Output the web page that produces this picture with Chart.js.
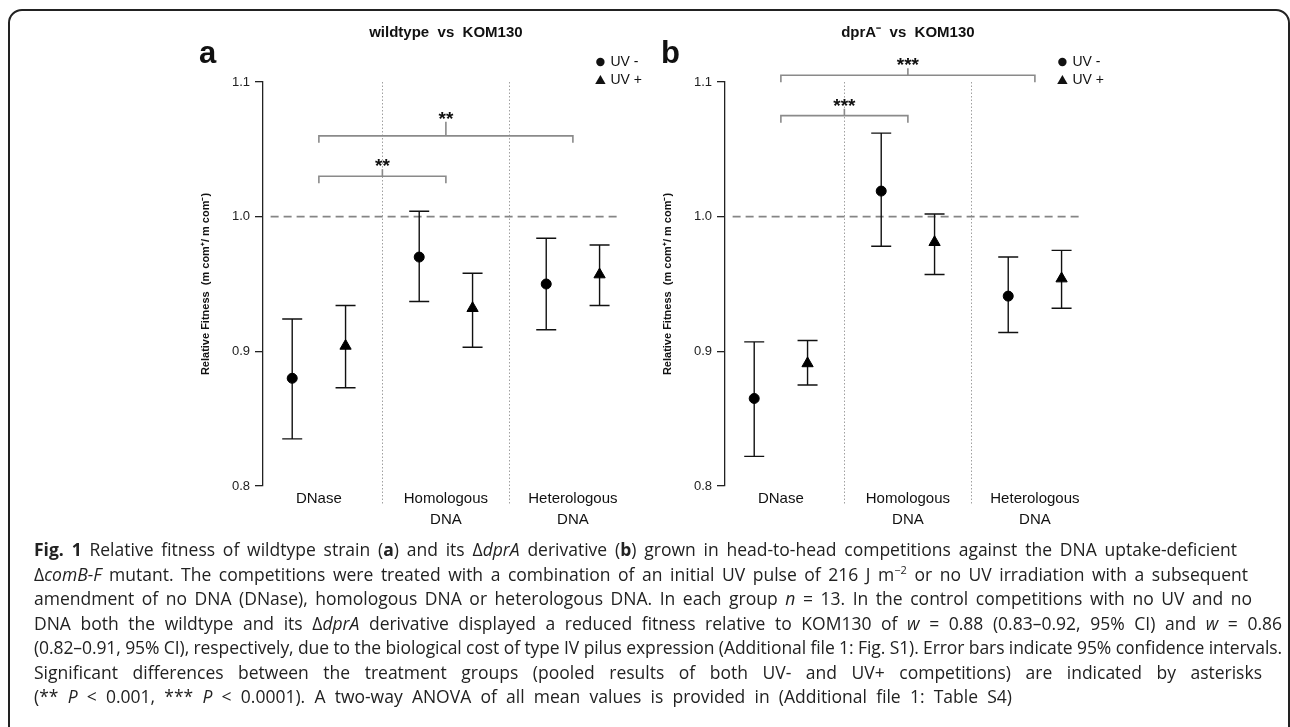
<!DOCTYPE html>
<html lang="en">
<head>
<meta charset="UTF-8">
<title>Fig. 1 Relative fitness</title>
<script src="https://cdn.jsdelivr.net/npm/chart.js"></script>
<style>
  html, body { margin: 0; padding: 0; background: #fff; }
  body { width: 1290px; height: 727px; position: relative; overflow: hidden; font-family: "Liberation Sans", Arial, sans-serif; }
  .frame { position: absolute; left: 8px; top: 9px; width: 1282px; height: 780px; border: 2px solid #222; border-radius: 14px; box-sizing: border-box; }
  .panel { position: absolute; top: 0; width: 660px; height: 540px; }
  #panelA { left: 0; }
  #panelB { left: 462px; }
  .caption { position: absolute; left: 34px; top: 537px; font-family: "Open Sans", "Noto Sans", sans-serif; font-size: 17.5px; color: #222; }
  .caption div { white-space: nowrap; height: 24.5px; line-height: 24.5px; }
  .caption span.line { display: inline-block; }
  .caption sup { font-size: 11px; line-height: 0; vertical-align: 7px; }
</style>
</head>
<body>
  <div class="frame"></div>
  <div class="panel" id="panelA"><canvas id="chartA"></canvas></div>
  <div class="panel" id="panelB"><canvas id="chartB"></canvas></div>

  <div class="caption" id="caption">
    <div><span class="line"><b>Fig. 1</b> Relative fitness of wildtype strain (<b>a</b>) and its Δ<i>dprA</i> derivative (<b>b</b>) grown in head-to-head competitions against the DNA uptake-deficient</span></div>
    <div><span class="line">Δ<i>comB-F</i> mutant. The competitions were treated with a combination of an initial UV pulse of 216 J m<sup>−2</sup> or no UV irradiation with a subsequent</span></div>
    <div><span class="line">amendment of no DNA (DNase), homologous DNA or heterologous DNA. In each group <i>n</i> = 13. In the control competitions with no UV and no</span></div>
    <div><span class="line">DNA both the wildtype and its Δ<i>dprA</i> derivative displayed a reduced fitness relative to KOM130 of <i>w</i> = 0.88 (0.83–0.92, 95% CI) and <i>w</i> = 0.86</span></div>
    <div><span class="line">(0.82–0.91, 95% CI), respectively, due to the biological cost of type IV pilus expression (Additional file 1: Fig. S1). Error bars indicate 95% confidence intervals.</span></div>
    <div><span class="line">Significant differences between the treatment groups (pooled results of both UV- and UV+ competitions) are indicated by asterisks</span></div>
    <div><span class="line">(** <i>P</i> &lt; 0.001, *** <i>P</i> &lt; 0.0001). A two-way ANOVA of all mean values is provided in (Additional file 1: Table S4)</span></div>
  </div>

<script>
// categories and axis
const categories = [['DNase'], ['Homologous', 'DNA'], ['Heterologous', 'DNA']];
const catPos = [1, 2, 3];
const yTicks = [0.8, 0.9, 1.0, 1.1];
const dividers = [1.5, 2.5];
const refLine = [0.62, 3.38];

// panel a: wildtype vs KOM130
const wtMinus   = [0.880, 0.970, 0.950];
const wtMinusLo = [0.835, 0.937, 0.916];
const wtMinusHi = [0.924, 1.004, 0.984];
const wtPlus    = [0.904, 0.932, 0.957];
const wtPlusLo  = [0.873, 0.903, 0.934];
const wtPlusHi  = [0.934, 0.958, 0.979];
const wtBrackets = [
  { from: 1, to: 2, y: 1.030, label: '**' },
  { from: 1, to: 3, y: 1.060, label: '**' }
];

// panel b: dprA- vs KOM130
const dprMinus   = [0.865, 1.019, 0.941];
const dprMinusLo = [0.822, 0.978, 0.914];
const dprMinusHi = [0.907, 1.062, 0.970];
const dprPlus    = [0.891, 0.981, 0.954];
const dprPlusLo  = [0.875, 0.957, 0.932];
const dprPlusHi  = [0.908, 1.002, 0.975];
const dprBrackets = [
  { from: 1, to: 2, y: 1.075, label: '***' },
  { from: 1, to: 3, y: 1.105, label: '***' }
];

const uvOffset = 0.21;
const FONT = '"Liberation Sans", Arial, Helvetica, sans-serif';

function points(pos, mean, lo, hi) {
  return mean.map((m, i) => ({ x: pos[i], y: m, lo: lo[i], hi: hi[i] }));
}

const decor = {
  id: 'decor',
  beforeDatasetsDraw(chart, args, opts) {
    const { ctx, chartArea: ca, scales: { x, y } } = chart;
    ctx.save();

    // dotted group separators
    ctx.strokeStyle = '#a0a0a0';
    ctx.lineWidth = 1;
    ctx.setLineDash([1.5, 2]);
    dividers.forEach(d => {
      const px = Math.round(x.getPixelForValue(d)) + 0.5;
      ctx.beginPath();
      ctx.moveTo(px, ca.top);
      ctx.lineTo(px, y.getPixelForValue(0.786));
      ctx.stroke();
    });

    // reference line at w = 1
    ctx.strokeStyle = '#858585';
    ctx.lineWidth = 1.7;
    ctx.setLineDash([8, 5]);
    const py = y.getPixelForValue(1.0);
    ctx.beginPath();
    ctx.moveTo(x.getPixelForValue(refLine[0]), py);
    ctx.lineTo(x.getPixelForValue(refLine[1]), py);
    ctx.stroke();

    // 95% CI error bars
    ctx.setLineDash([]);
    ctx.strokeStyle = '#111';
    ctx.lineWidth = 1.4;
    chart.data.datasets.forEach(ds => {
      ds.data.forEach(p => {
        const px = x.getPixelForValue(p.x);
        const yl = y.getPixelForValue(p.lo), yh = y.getPixelForValue(p.hi);
        ctx.beginPath();
        ctx.moveTo(px, yl); ctx.lineTo(px, yh);
        ctx.moveTo(px - 10, yl); ctx.lineTo(px + 10, yl);
        ctx.moveTo(px - 10, yh); ctx.lineTo(px + 10, yh);
        ctx.stroke();
      });
    });

    // significance brackets
    ctx.strokeStyle = '#8a8a8a';
    ctx.lineWidth = 1.6;
    ctx.fillStyle = '#111';
    ctx.font = 'bold 19px ' + FONT;
    ctx.textAlign = 'center';
    ctx.textBaseline = 'alphabetic';
    opts.brackets.forEach((b, i) => {
      const x1 = x.getPixelForValue(b.from), x2 = x.getPixelForValue(b.to);
      const by = y.getPixelForValue(b.y);
      const xm = (x1 + x2) / 2;
      const stem = opts.stems[i];
      ctx.beginPath();
      ctx.moveTo(x1, by + 7); ctx.lineTo(x1, by); ctx.lineTo(x2, by); ctx.lineTo(x2, by + 7);
      ctx.moveTo(xm, by); ctx.lineTo(xm, by - stem);
      ctx.stroke();
      ctx.fillText(b.label, xm, by - stem + 3);
    });
    ctx.restore();
  },
  afterDraw(chart, args, opts) {
    const { ctx, chartArea: ca, scales: { x } } = chart;
    ctx.save();
    ctx.fillStyle = '#111';
    ctx.textAlign = 'center';
    ctx.textBaseline = 'middle';

    // category labels
    ctx.font = '15px ' + FONT;
    categories.forEach((lines, i) => {
      const px = x.getPixelForValue(catPos[i]);
      lines.forEach((t, k) => ctx.fillText(t, px, ca.bottom + 13 + k * 21));
    });

    // panel title
    ctx.font = 'bold 15px ' + FONT;
    ctx.fillText(opts.title, x.getPixelForValue(2), ca.top - 49);

    // panel letter
    ctx.font = 'bold 31px ' + FONT;
    ctx.textAlign = 'left';
    ctx.textBaseline = 'alphabetic';
    ctx.fillText(opts.letter, ca.left - 64, ca.top - 19);

    // legend
    const lx = ca.right - 36;
    ctx.beginPath();
    ctx.arc(lx, ca.top - 20, 4.2, 0, Math.PI * 2);
    ctx.fill();
    ctx.beginPath();
    ctx.moveTo(lx, ca.top - 7);
    ctx.lineTo(lx + 5.2, ca.top + 2);
    ctx.lineTo(lx - 5.2, ca.top + 2);
    ctx.closePath();
    ctx.fill();
    ctx.font = '14px ' + FONT;
    ctx.textBaseline = 'middle';
    ctx.fillText('UV -', lx + 10, ca.top - 20);
    ctx.fillText('UV +', lx + 10, ca.top - 2);
    ctx.restore();
  }
};

function makePanel(id, title, letter, minus, minusLo, minusHi, plus, plusLo, plusHi, brackets, stems) {
  return new Chart(document.getElementById(id), {
    type: 'scatter',
    data: {
      datasets: [{
        label: 'UV -',
        data: points(catPos.map(c => c - uvOffset), minus, minusLo, minusHi),
        pointStyle: 'circle',
        pointRadius: 5,
        backgroundColor: '#000',
        borderColor: '#000',
        borderWidth: 1
      }, {
        label: 'UV +',
        data: points(catPos.map(c => c + uvOffset), plus, plusLo, plusHi),
        pointStyle: 'triangle',
        pointRadius: 6.5,
        backgroundColor: '#000',
        borderColor: '#000',
        borderWidth: 1
      }]
    },
    options: {
      responsive: true,
      maintainAspectRatio: false,
      animation: false,
      events: [],
      layout: { padding: { left: 190, top: 82, right: 23.6, bottom: 54 } },
      plugins: {
        legend: { display: false },
        tooltip: { enabled: false },
        decor: { title, letter, brackets, stems }
      },
      scales: {
        x: { type: 'linear', display: false, min: 0.56, max: 3.5 },
        y: {
          min: 0.8,
          max: 1.1,
          afterFit(s) { s.width = 73; },
          afterBuildTicks(s) { s.ticks = yTicks.map(v => ({ value: v })); },
          grid: { display: true, drawOnChartArea: false, drawTicks: true, tickLength: 8, color: '#222', lineWidth: 1.3 },
          border: { display: true, color: '#222', width: 1.3 },
          ticks: {
            padding: 5,
            color: '#222',
            font: { family: FONT, size: 13 },
            callback: v => v.toFixed(1)
          },
          title: {
            display: true,
            text: 'Relative Fitness  (m com\u207A/ m com\u207B)',
            color: '#111',
            font: { family: FONT, size: 11, weight: 'bold' },
            padding: { top: 9, bottom: 0 }
          }
        }
      }
    },
    plugins: [decor]
  });
}

makePanel('chartA', 'wildtype  vs  KOM130', 'a',
  wtMinus, wtMinusLo, wtMinusHi, wtPlus, wtPlusLo, wtPlusHi, wtBrackets, [7, 14]);
makePanel('chartB', 'dprA\u207B  vs  KOM130', 'b',
  dprMinus, dprMinusLo, dprMinusHi, dprPlus, dprPlusLo, dprPlusHi, dprBrackets, [7, 7]);

// stretch or squeeze each caption line to its printed width
const lineEnds = [1237, 1248, 1252, 1282, 1282, 1262, 1012];
document.querySelectorAll('#caption span.line').forEach((el, i) => {
  const target = lineEnds[i] - 34;
  const natural = el.getBoundingClientRect().width;
  const diff = target - natural;
  if (diff >= 0) {
    const spaces = (el.textContent.match(/ /g) || []).length;
    el.style.wordSpacing = (diff / spaces) + 'px';
  } else {
    el.style.letterSpacing = (diff / el.textContent.length) + 'px';
  }
});
</script>
</body>
</html>
